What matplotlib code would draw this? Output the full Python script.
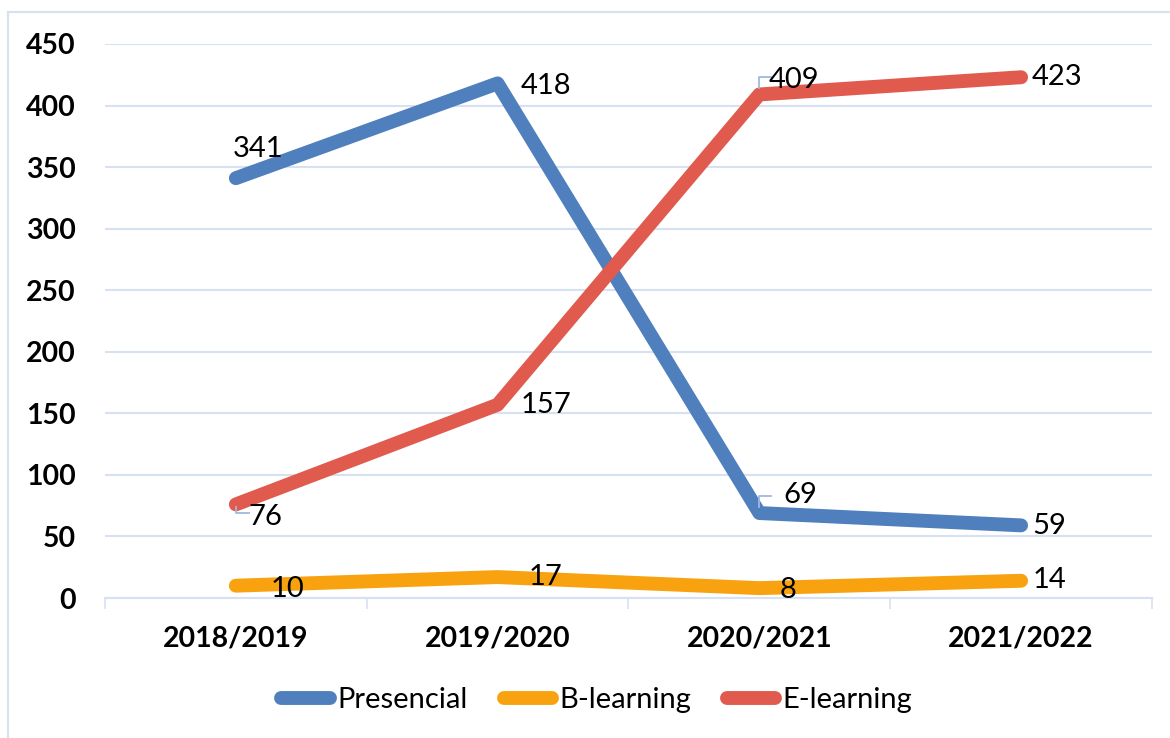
import matplotlib.pyplot as plt
import matplotlib.lines as mlines
import numpy as np

plt.rcParams['font.family'] = ['Lato', 'DejaVu Sans']

anos = ["2018/2019", "2019/2020", "2020/2021", "2021/2022"]
presencial = [341, 418, 69, 59]
b_learning = [10, 17, 8, 14]
e_learning = [76, 157, 409, 423]

cores = {"Presencial": "#4F80BD", "B-learning": "#F8A20F", "E-learning": "#E05A4E"}
cor_grelha = "#D6E1F2"

# decalagens dos rótulos (pixels) e se leva linha de chamada
desloc = {
    "Presencial": [(22, 29, False), (48, -3, False), (41, 18, True), (28, -1, False)],
    "B-learning": [(52, -3, False), (48, 0, False), (29, -2, False), (28, 1, False)],
    "E-learning": [(29, -13, True), (48, 0, False), (35, 14, True), (36, 0, False)],
}

fig = plt.figure(figsize=(11.7, 7.38), dpi=100)
ax = fig.add_axes([0.0897, 0.1897, 0.8949, 0.7507])

x = np.arange(len(anos))
ax.set_xlim(-0.5, 3.5)
ax.set_ylim(0, 450)

series = [("Presencial", presencial), ("B-learning", b_learning), ("E-learning", e_learning)]
for nome, vals in series:
    ax.plot(x, vals, color=cores[nome], lw=10, solid_capstyle="round",
            solid_joinstyle="round", zorder=3, label=nome)

for nome, vals in series:
    for i, v in enumerate(vals):
        dx, dy, chamada = desloc[nome][i]
        ax.annotate(str(v), (x[i], v), xytext=(dx, dy), textcoords="offset pixels",
                    ha="center", va="center", fontsize=21, color="black", zorder=5)
        if chamada:
            # pequena linha de chamada em L
            px, py = ax.transData.transform((x[i], v))
            if dy > 0:
                pts = np.array([[px, py + 6], [px, py + 17], [px + 12, py + 17]])
            else:
                pts = np.array([[px, py - 3], [px, py - 9], [px + 13, py - 9]])
            d = ax.transData.inverted().transform(pts)
            ax.plot(d[:, 0], d[:, 1], color="#9DB9E0", lw=1.3, zorder=4)

ax.set_yticks(np.arange(0, 451, 50))
ax.set_xticks(x)
ax.set_xticklabels(anos)
ax.set_xticks(np.arange(-0.5, 3.6, 1), minor=True)
ax.tick_params(axis="x", which="major", length=0, pad=20, labelsize=20.5)
ax.tick_params(axis="x", which="minor", length=8, width=1.2, color=cor_grelha, direction="out")
ax.tick_params(axis="y", length=0, pad=21, labelsize=20.5)
for lab in ax.get_xticklabels() + ax.get_yticklabels():
    lab.set_fontweight("bold")

ax.grid(axis="y", color=cor_grelha, lw=1.5, zorder=0)
ax.set_axisbelow(True)
for s in ["top", "right", "left"]:
    ax.spines[s].set_visible(False)
ax.spines["bottom"].set_color(cor_grelha)
ax.spines["bottom"].set_linewidth(1.5)

# moldura exterior do gráfico
fig.add_artist(mlines.Line2D([8 / 1170, 8 / 1170], [0, 1 - 12 / 738], color=cor_grelha, lw=1.5))
fig.add_artist(mlines.Line2D([8 / 1170, 1], [1 - 12 / 738, 1 - 12 / 738], color=cor_grelha, lw=1.5))

leg = fig.legend(loc="center", bbox_to_anchor=(597 / 1170, 1 - 700 / 738), ncol=3, frameon=False,
                 fontsize=21, handlelength=1.65, handletextpad=0.25, columnspacing=1.25)

fig.savefig("out.png", dpi=100)
